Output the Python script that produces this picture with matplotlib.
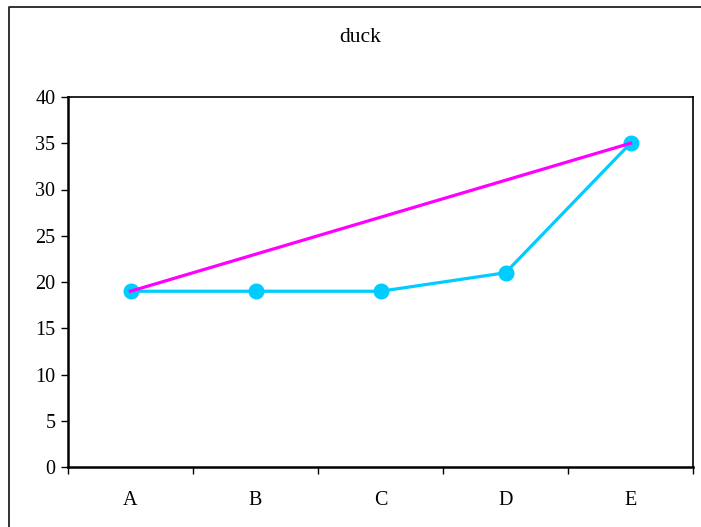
import matplotlib
matplotlib.use("Agg")
import matplotlib.pyplot as plt
from matplotlib.lines import Line2D

# data
categories = ["A", "B", "C", "D", "E"]
cyan_values = [19, 19, 19, 21, 35]
magenta_cats = ["A", "E"]
magenta_values = [19, 35]
y_ticks = [0, 5, 10, 15, 20, 25, 30, 35, 40]

plt.rcParams['font.family'] = ['Liberation Serif', 'DejaVu Serif']
plt.rcParams['font.size'] = 14.5

W, H = 701, 527
fig = plt.figure(figsize=(W / 100, H / 100), dpi=100)

# outer chart border (left and top only visible)
bx, by = 8.5 / W, 1 - 6.5 / H
fig.lines.append(Line2D([bx, bx, 1.0], [0.0, by, by], transform=fig.transFigure,
                        color="#222222", linewidth=1.3))

ax = fig.add_axes([68 / W, 1 - 467 / H, (693 - 68) / W, (467 - 97) / H])

xpos = {c: i + 0.5 for i, c in enumerate(categories)}
ax.plot([xpos[c] for c in categories], cyan_values, color="#00CCFF",
        linewidth=2.3, marker="o", markersize=10.5, zorder=3)
ax.plot([xpos[c] for c in magenta_cats], magenta_values, color="#FF00FF",
        linewidth=2.3, zorder=4)

ax.set_xlim(0, len(categories))
ax.set_ylim(0, 40)
ax.set_yticks(y_ticks)
ax.set_xticks(range(len(categories) + 1))
ax.set_xticklabels([])
ax.set_xticks([xpos[c] for c in categories], minor=True)
ax.set_xticklabels(categories, minor=True)
ax.tick_params(axis="x", which="minor", length=0, pad=17)
ax.tick_params(axis="x", which="major", direction="out", length=5, width=1)
ax.tick_params(axis="y", direction="out", length=5, width=1, pad=4)
for s in ax.spines.values():
    s.set_linewidth(1.2)
ax.spines["bottom"].set_linewidth(1.8)
ax.spines["left"].set_linewidth(1.8)

fig.text(360 / W, 1 - 37 / H, "duck", ha="center", va="center", fontsize=15.5)

fig.savefig("out.png", dpi=100)
